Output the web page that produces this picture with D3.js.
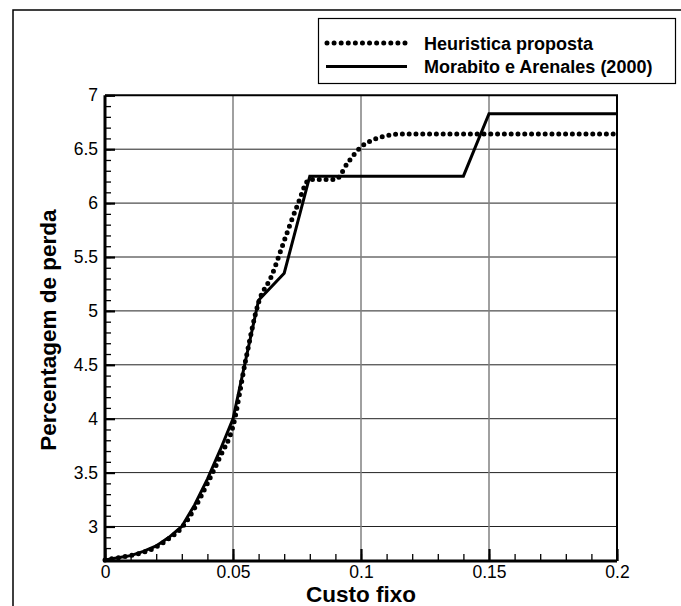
<!DOCTYPE html>
<html><head><meta charset="utf-8">
<script src="https://cdn.jsdelivr.net/npm/d3@7"></script>
<style>body{margin:0;background:#fff}</style>
</head><body>
<svg id="c" width="681" height="606"></svg>
<script>
// Data
const heurX = [0, 0.005, 0.01, 0.015, 0.02, 0.025, 0.03, 0.035, 0.04, 0.045, 0.05, 0.055, 0.06, 0.065, 0.07, 0.075, 0.08, 0.085, 0.09, 0.095, 0.1, 0.105, 0.11, 0.115, 0.12, 0.15, 0.2];
const heurY = [2.69, 2.71, 2.73, 2.76, 2.81, 2.89, 2.99, 3.17, 3.40, 3.65, 3.93, 4.55, 5.08, 5.32, 5.65, 5.97, 6.22, 6.22, 6.22, 6.38, 6.52, 6.59, 6.625, 6.64, 6.64, 6.64, 6.64];
const morabX = [0, 0.005, 0.01, 0.015, 0.02, 0.025, 0.03, 0.035, 0.04, 0.045, 0.05, 0.06, 0.07, 0.08, 0.14, 0.15, 0.2];
const morabY = [2.69, 2.71, 2.73, 2.77, 2.82, 2.90, 3.00, 3.20, 3.44, 3.71, 4.00, 5.10, 5.35, 6.25, 6.25, 6.83, 6.83];
const xTicks = [0, 0.05, 0.1, 0.15, 0.2];
const xTickLabels = ["0", "0.05", "0.1", "0.15", "0.2"];
const yTicks = [3, 3.5, 4, 4.5, 5, 5.5, 6, 6.5, 7];
const yTickLabels = ["3", "3.5", "4", "4.5", "5", "5.5", "6", "6.5", "7"];
const xMinor = d3.range(0, 21).map(i => i / 100);
const yMinor = d3.range(27, 71).map(i => i / 10);
const seriesNames = ["Heuristica proposta", "Morabito e Arenales (2000)"];
const xTitle = "Custo fixo";
const yTitle = "Percentagem de perda";

const FONT = "'Liberation Sans', Arial, Helvetica, sans-serif";
const svg = d3.select("#c");
const L = 105, R = 617, T = 95.3, B = 561;
const x = d3.scaleLinear().domain([0, 0.2]).range([L, R]);
const y = d3.scaleLinear().domain([2.68, 7]).range([B, T]);

// outer frame
svg.append("path").attr("d", "M13,606V10H681").attr("fill", "none").attr("stroke", "#000").attr("stroke-width", 1.5);

// grid
svg.append("g").selectAll("line").data(yTicks.filter(v => v < 7)).join("line")
  .attr("x1", L).attr("x2", R).attr("y1", d => y(d)).attr("y2", d => y(d))
  .attr("stroke", "#222").attr("stroke-width", 1);
svg.append("g").selectAll("line").data(xTicks.filter(v => v > 0 && v < 0.2)).join("line")
  .attr("y1", T).attr("y2", B).attr("x1", d => x(d)).attr("x2", d => x(d))
  .attr("stroke", "#808080").attr("stroke-width", 1.5);

// frame top/right
svg.append("path").attr("d", `M${L},${T}H${R}V${B}`).attr("fill", "none").attr("stroke", "#000").attr("stroke-width", 2);

// minor ticks
const gxm = svg.append("g").attr("transform", `translate(0,${B})`)
  .call(d3.axisBottom(x).tickValues(xMinor).tickSize(-7).tickFormat(""));
gxm.selectAll("line").attr("stroke-width", 1.3);
gxm.select(".domain").remove();
const gym = svg.append("g").attr("transform", `translate(${L},0)`)
  .call(d3.axisLeft(y).tickValues(yMinor).tickSize(-6).tickFormat(""));
gym.selectAll("line").attr("stroke-width", 1.3);
gym.select(".domain").remove();

// major ticks + labels
const gx = svg.append("g").attr("transform", `translate(0,${B})`)
  .call(d3.axisBottom(x).tickValues(xTicks).tickSize(-12).tickPadding(5)
    .tickFormat((d, i) => xTickLabels[i]));
gx.selectAll("line").attr("stroke-width", 2.2);
gx.select(".domain").remove();
gx.selectAll("text").attr("font-family", FONT).attr("font-size", 17.5).attr("fill", "#000");

const gy = svg.append("g").attr("transform", `translate(${L},0)`)
  .call(d3.axisLeft(y).tickValues(yTicks).tickSize(-10).tickPadding(7)
    .tickFormat((d, i) => yTickLabels[i]));
gy.selectAll("line").attr("stroke-width", 2.2);
gy.select(".domain").remove();
gy.selectAll("text").attr("font-family", FONT).attr("font-size", 17.5).attr("fill", "#000");

// axis lines left/bottom
svg.append("path").attr("d", `M${L},${T}V${B}H${R}`).attr("fill", "none").attr("stroke", "#000").attr("stroke-width", 3);

// series
const line = d3.line().x(d => x(d[0])).y(d => y(d[1]));
const morab = morabX.map((v, i) => [v, morabY[i]]);
const heur = heurX.map((v, i) => [v, heurY[i]]);
svg.append("path").datum(morab).attr("d", line).attr("fill", "none")
  .attr("stroke", "#000").attr("stroke-width", 3).attr("stroke-linejoin", "miter");
svg.append("path").datum(heur).attr("d", line.curve(d3.curveMonotoneX)).attr("fill", "none")
  .attr("stroke", "#000").attr("stroke-width", 5).attr("stroke-linecap", "round")
  .attr("stroke-dasharray", "0 6.8");

// axis titles
svg.append("text").attr("x", (L + R) / 2).attr("y", 602).attr("text-anchor", "middle")
  .attr("font-family", FONT).attr("font-weight", "bold").attr("font-size", 22.5).text(xTitle);
svg.append("text").attr("transform", `translate(56,${(T + B) / 2 + 2}) rotate(-90)`).attr("text-anchor", "middle")
  .attr("font-family", FONT).attr("font-weight", "bold").attr("font-size", 22.5).text(yTitle);

// legend
const lg = svg.append("g");
lg.append("rect").attr("x", 318.5).attr("y", 18.5).attr("width", 357).attr("height", 65)
  .attr("fill", "#fff").attr("stroke", "#000").attr("stroke-width", 1.2);
lg.append("line").attr("x1", 327).attr("x2", 405).attr("y1", 43).attr("y2", 43)
  .attr("stroke", "#000").attr("stroke-width", 5).attr("stroke-linecap", "round").attr("stroke-dasharray", "0 7.09");
lg.append("line").attr("x1", 326).attr("x2", 407).attr("y1", 66.5).attr("y2", 66.5)
  .attr("stroke", "#000").attr("stroke-width", 3);
lg.selectAll("text.l").data(seriesNames).join("text").attr("class", "l")
  .attr("x", 424).attr("y", (d, i) => 49.5 + i * 23.5)
  .attr("font-family", FONT).attr("font-weight", "bold").attr("font-size", 18).text(d => d);
</script>
</body></html>
